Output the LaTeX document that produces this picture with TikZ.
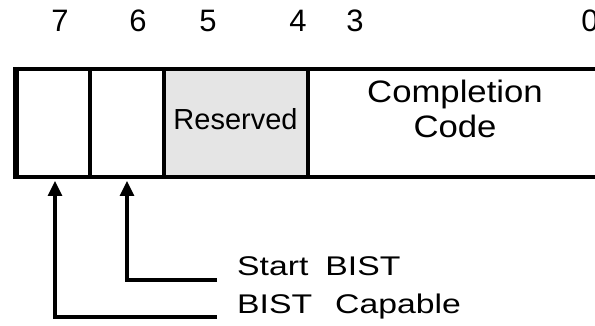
\documentclass[tikz,border=0pt]{standalone}
\usepackage{fontspec}
\setmainfont{Liberation Sans}
\newfontfamily\widefont[FakeStretch=1.25]{Liberation Sans}
\newfontfamily\codefont[FakeStretch=1.12]{Liberation Sans}
\usetikzlibrary{arrows.meta}

\tikzset{
  bitnum/.style={anchor=base, inner sep=0, font=\fontsize{31}{31}\selectfont},
  callout/.style={anchor=base west, inner sep=0, font=\widefont\fontsize{27}{27}\selectfont},
  ptr/.style={line width=3.2, -{Triangle[length=15,width=14]}}
}

\begin{document}
\begin{tikzpicture}[x=1pt,y=-1pt]
\clip (0,0) rectangle (595,326);
\fill[white] (0,0) rectangle (595,326);
% reserved field
\fill[gray!20] (163,69) rectangle (308,177);
% register outline
\draw[line width=4.5] (13,69) -- (620,69) (13,177) -- (620,177);
\draw[line width=6] (15.5,67) -- (15.5,179);
\foreach \x in {89.5,163.5,308} {
 \draw[line width=4] (\x,69) -- (\x,177);
}
% bit numbers
\foreach \b/\x in {7/60,6/138,5/208,4/298,3/355,0/590} {
 \node[bitnum] (bit\b) at (\x,32) {\b};
}
% field names
\node[anchor=base, inner sep=0, font=\fontsize{29}{29}\selectfont] (rsvd) at (235.5,130) {Reserved};
\node[anchor=base, inner sep=0, align=center, font=\codefont\fontsize{31}{35}\selectfont] (ccode) at (455,138) {Completion\\Code};
% bit 7 and bit 6 callouts
\node[callout] (start) at (237,275) {Start\hspace{17pt}BIST};
\node[callout] (capable) at (237,313) {BIST\hspace{23pt}Capable};
\coordinate (startend) at (217,280);
\coordinate (capend) at (217,317);
\coordinate (cell6) at (127,181);
\coordinate (cell7) at (55,181);
\draw[ptr] (startend) -| (cell6);
\draw[ptr] (capend) -| (cell7);
\end{tikzpicture}
\end{document}
